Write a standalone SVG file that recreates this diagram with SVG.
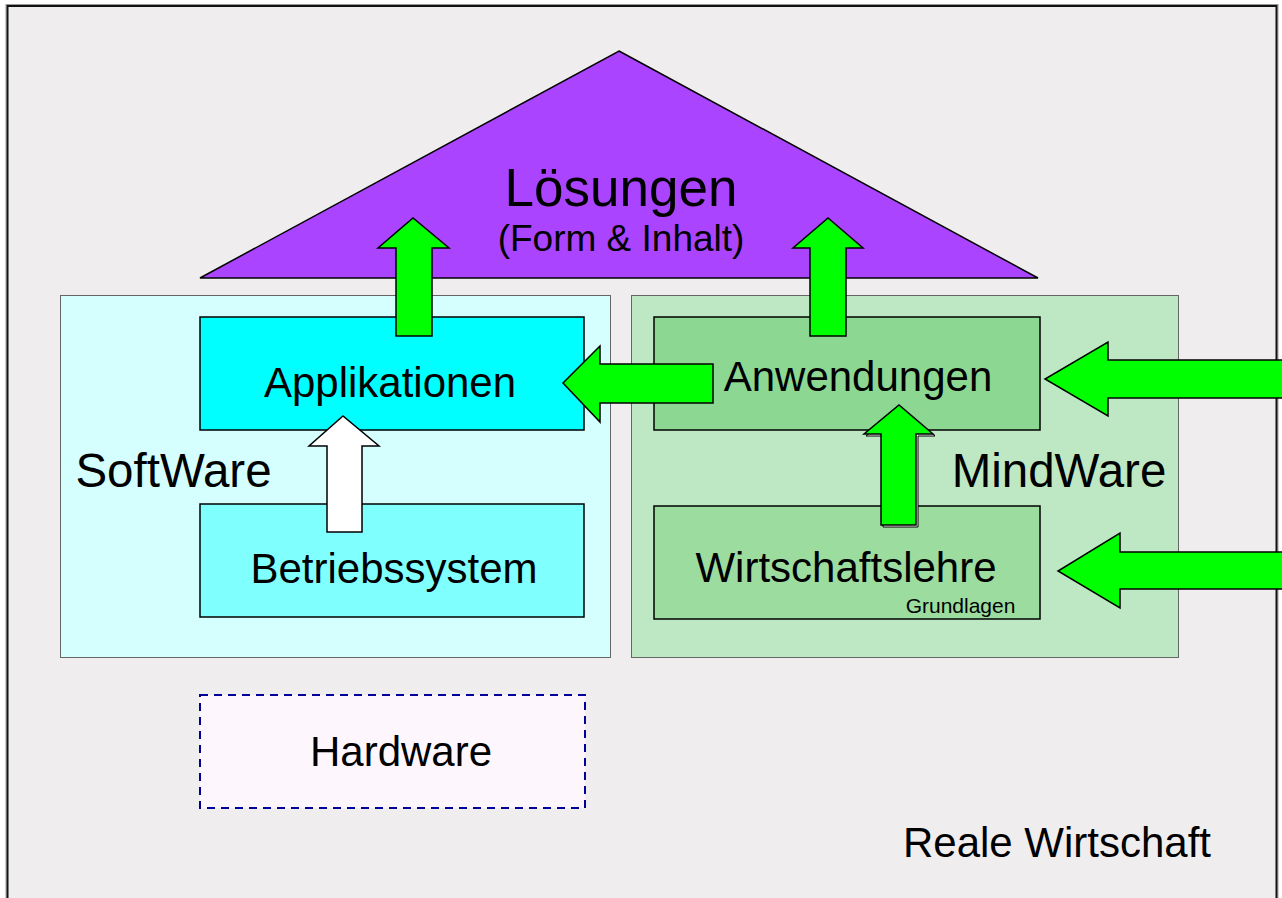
<svg xmlns="http://www.w3.org/2000/svg" width="1282" height="898" viewBox="0 0 1282 898">
<style>
text{font-family:"Liberation Sans",Arial,sans-serif;fill:#000;text-anchor:middle}
.box{stroke:#000;stroke-width:1.5}
.area{stroke:#666;stroke-width:1}
.arr{fill:#00ff00;stroke:#000;stroke-width:1.5;stroke-linejoin:miter}
.t42{font-size:42px}
</style>
<rect width="1282" height="898" fill="#ffffff"/>
<g id="frame">
<rect x="6" y="4.5" width="1272" height="900" fill="none" stroke="#999" stroke-width="1"/>
<rect x="7.5" y="6" width="1269" height="900" fill="#efedee" stroke="#111" stroke-width="2"/>
</g>
<g id="loesungen">
<polygon points="619,51 1038,278 200,278" fill="#aa44ff" stroke="#000" stroke-width="1.5"/>
<text x="621" y="206" font-size="53">Lösungen</text>
<text x="621" y="251" font-size="37">(Form &amp; Inhalt)</text>
</g>
<g id="software">
<rect class="area" x="60.5" y="295.5" width="550" height="362" fill="#d5ffff"/>
<text x="173.5" y="487" font-size="47.5">SoftWare</text>
</g>
<g id="mindware">
<rect class="area" x="631.5" y="295.5" width="547" height="362" fill="#bee8c3"/>
<text x="1059" y="487" font-size="47.5">MindWare</text>
</g>
<g id="applikationen">
<rect class="box" x="200" y="317" width="384" height="113" fill="#00ffff"/>
<text class="t42" x="390" y="397">Applikationen</text>
</g>
<g id="betriebssystem">
<rect class="box" x="200" y="504" width="384" height="113" fill="#80ffff"/>
<text class="t42" x="394" y="583">Betriebssystem</text>
</g>
<g id="anwendungen">
<rect class="box" x="654" y="317" width="386" height="113" fill="#8cd893"/>
<text class="t42" x="858" y="391">Anwendungen</text>
</g>
<g id="wirtschaftslehre">
<rect class="box" x="654" y="506" width="386" height="113" fill="#9cdc9f"/>
<text class="t42" x="846" y="582">Wirtschaftslehre</text>
<text x="960.5" y="613" font-size="21">Grundlagen</text>
</g>
<g id="hardware">
<rect x="200" y="695" width="385" height="113" fill="#fdf7fd" stroke="#000099" stroke-width="2" stroke-dasharray="8,6"/>
<text class="t42" x="401" y="766">Hardware</text>
</g>
<g id="reale-wirtschaft">
<text class="t42" x="1057" y="857">Reale Wirtschaft</text>
</g>
<g id="connectors">
<polygon class="arr" points="396,336 396,248 378,248 413,218 449,248 432,248 432,336"/>
<polygon class="arr" points="810,336 810,248 793,248 828,218 863,248 846,248 846,336"/>
<polygon class="arr" points="713,364 600,364 600,346 563,383 600,422 600,403 713,403"/>
<polygon points="883,527 883,436 866,436 901,407 935,436 918,436 918,527" fill="#fff" stroke="#000" stroke-width="1"/>
<polygon class="arr" points="881,525 881,434 864,434 899,405 933,434 916,434 916,525"/>
<polygon points="327,532 327,446 309,446 343,416 379,446 362,446 362,532" fill="#fff" stroke="#000" stroke-width="1.5"/>
<polygon class="arr" points="1290,360 1108,360 1108,342 1045,379 1108,416 1108,398 1290,398"/>
<polygon class="arr" points="1290,552 1120,552 1120,533 1058,571 1120,608 1120,589 1290,589"/>
</g>
</svg>
